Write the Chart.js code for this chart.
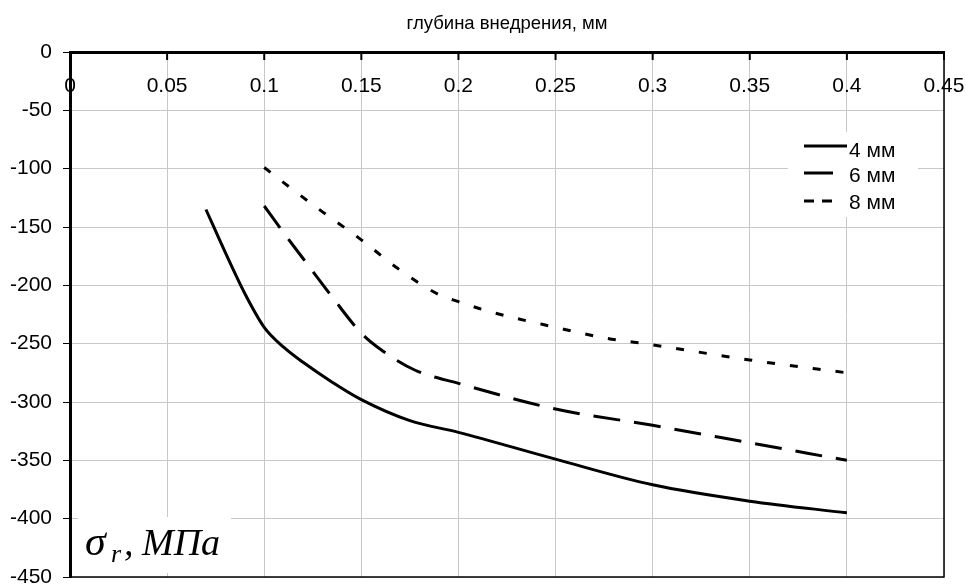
<!DOCTYPE html>
<html>
<head>
<meta charset="utf-8">
<script src="https://cdn.jsdelivr.net/npm/chart.js@4.4.0/dist/chart.umd.min.js"></script>
<style>
html, body { margin: 0; padding: 0; background: #fff; }
#wrap { width: 966px; height: 586px; }
</style>
</head>
<body>
<div id="wrap"><canvas id="stressChart"></canvas></div>
<script>
var xTitle = "глубина внедрения, мм";
var seriesNames = ["4 мм", "6 мм", "8 мм"];

// depth (mm) and radial stress (MPa)
var depth4 = [0.07, 0.08, 0.09, 0.1, 0.11, 0.12, 0.135, 0.15, 0.175, 0.2, 0.25, 0.3, 0.35, 0.4];
var stress4 = [-135, -172, -207, -236, -253, -266, -283, -298, -316, -326, -349, -371, -385, -395];

var depth6 = [0.1, 0.11, 0.12, 0.135, 0.15, 0.16, 0.178, 0.2, 0.25, 0.3, 0.35, 0.4];
var stress6 = [-132, -155, -177, -210, -241, -255, -273, -284, -306, -320, -335, -350];

var depth8 = [0.1, 0.11, 0.13, 0.15, 0.17, 0.19, 0.2, 0.215, 0.25, 0.275, 0.3, 0.35, 0.4];
var stress8 = [-99, -112, -137, -161, -187, -208, -214, -222, -236, -245, -251, -264, -275];

var dashes = [[], [27, 14], [8, 15]];

var gridGray = "#c8c8c8";
var sans = "'Liberation Sans', Arial, sans-serif";
var serif = "'Liberation Serif', 'Times New Roman', serif";

function points(xs, ys) {
    return xs.map(function (x, i) { return { x: x, y: ys[i] }; });
}

function makeSet(name, xs, ys, dash) {
    return {
        label: name,
        data: points(xs, ys),
        borderColor: "#000",
        borderWidth: 3,
        borderDash: dash,
        pointRadius: 0,
        fill: false,
        cubicInterpolationMode: "monotone"
    };
}

// extra drawing: frame, top ticks and labels, legend, axis caption
var overlay = {
    id: "overlay",
    afterDraw: function (chart) {
        var ctx = chart.ctx;
        var a = chart.chartArea;
        var xs = chart.scales.x;
        ctx.save();

        // thin right / bottom frame
        ctx.strokeStyle = "#000";
        ctx.lineWidth = 1.5;
        ctx.beginPath();
        ctx.moveTo(a.right, a.top);
        ctx.lineTo(a.right, a.bottom);
        ctx.lineTo(a.left, a.bottom);
        ctx.stroke();

        // tick marks and labels under the top axis
        ctx.lineWidth = 2;
        ctx.fillStyle = "#000";
        ctx.font = "21px " + sans;
        ctx.textAlign = "center";
        ctx.textBaseline = "middle";
        xs.ticks.forEach(function (t) {
            var px = xs.getPixelForValue(t.value);
            ctx.beginPath();
            ctx.moveTo(px, a.top);
            ctx.lineTo(px, a.top + 8);
            ctx.stroke();
            ctx.fillText(String(parseFloat(t.value.toFixed(2))), px, a.top + 34);
        });

        // legend
        ctx.fillStyle = "#fff";
        ctx.fillRect(788, 132, 130, 85);
        ctx.lineWidth = 3;
        ctx.textAlign = "left";
        ctx.font = "21px " + sans;
        var lineY = [146, 173, 201];
        var textY = [151, 176, 203];
        var lineEnd = [847, 833, 833];
        var legendDash = [[], [], [10, 8]];
        chart.data.datasets.forEach(function (ds, i) {
            ctx.strokeStyle = "#000";
            ctx.setLineDash(legendDash[i]);
            ctx.beginPath();
            ctx.moveTo(804, lineY[i]);
            ctx.lineTo(lineEnd[i], lineY[i]);
            ctx.stroke();
            ctx.setLineDash([]);
            ctx.fillStyle = "#000";
            ctx.fillText(ds.label, 849, textY[i]);
        });

        // sigma_r caption
        ctx.fillStyle = "#fff";
        ctx.fillRect(78, 517, 153, 56);
        ctx.fillStyle = "#000";
        ctx.textBaseline = "alphabetic";
        ctx.font = "italic 42px " + serif;
        ctx.fillText("σ", 85, 555);
        ctx.font = "italic 26px " + serif;
        ctx.fillText("r", 111, 562);
        ctx.font = "italic 38px " + serif;
        ctx.fillText(",", 124, 555);
        ctx.fillText("МПа", 142, 555);

        ctx.restore();
    }
};

var stressChart = new Chart("stressChart", {
    type: "line",
    data: {
        datasets: [
            makeSet(seriesNames[0], depth4, stress4, dashes[0]),
            makeSet(seriesNames[1], depth6, stress6, dashes[1]),
            makeSet(seriesNames[2], depth8, stress8, dashes[2])
        ]
    },
    options: {
        responsive: true,
        maintainAspectRatio: false,
        animation: false,
        layout: { padding: { right: 22, bottom: 9, left: 0, top: 0 } },
        plugins: {
            legend: { display: false },
            tooltip: { enabled: false }
        },
        scales: {
            x: {
                type: "linear",
                position: "top",
                min: 0,
                max: 0.45,
                ticks: { stepSize: 0.05, display: false },
                grid: { color: gridGray, lineWidth: 1, drawTicks: false },
                border: { color: "#000", width: 3 },
                title: {
                    display: true,
                    text: xTitle,
                    color: "#000",
                    font: { family: sans, size: 18.5 },
                    padding: { top: 12.5, bottom: 0 }
                },
                afterFit: function (s) { s.height = 52; }
            },
            y: {
                min: -450,
                max: 0,
                ticks: {
                    stepSize: 50,
                    color: "#000",
                    padding: 11,
                    font: { family: sans, size: 21 }
                },
                grid: { color: gridGray, lineWidth: 1, tickColor: "#000", tickLength: 7 },
                border: { color: "#000", width: 3 },
                afterFit: function (s) {
                    s.width = 70;
                    s.paddingTop = 0;
                    s.paddingBottom = 0;
                }
            }
        }
    },
    plugins: [overlay]
});
</script>
</body>
</html>
